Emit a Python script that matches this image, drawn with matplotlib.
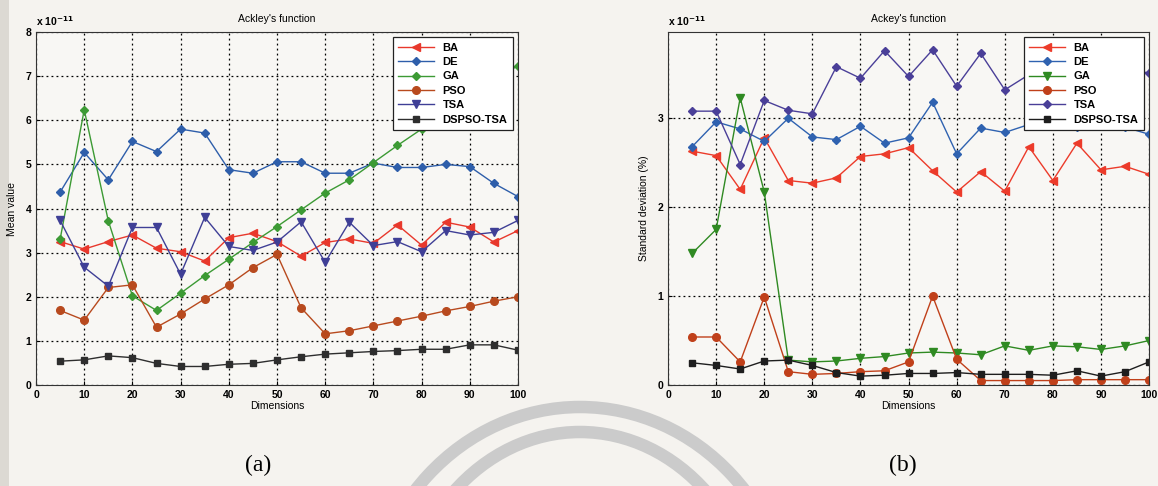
import matplotlib
matplotlib.use("Agg")
import matplotlib.pyplot as plt
from matplotlib.patches import Arc, Rectangle

plt.rcParams['font.family'] = ['Liberation Sans', 'DejaVu Sans']
plt.rcParams['font.weight'] = 'bold'

dims = [5, 10, 15, 20, 25, 30, 35, 40, 45, 50, 55, 60, 65, 70, 75, 80, 85, 90, 95, 100]

# (a) mean value, units of 1e-11
mean_ba = [3.25, 3.08, 3.25, 3.40, 3.10, 3.02, 2.81, 3.34, 3.44, 3.25,
           2.92, 3.23, 3.31, 3.21, 3.63, 3.17, 3.69, 3.58, 3.24, 3.50]
mean_de = [4.37, 5.27, 4.65, 5.52, 5.29, 5.80, 5.71, 4.88, 4.80, 5.06,
           5.06, 4.80, 4.80, 5.03, 4.93, 4.93, 5.00, 4.95, 4.57, 4.27]
mean_ga = [3.30, 6.24, 3.72, 2.02, 1.69, 2.08, 2.48, 2.85, 3.23, 3.59,
           3.97, 4.35, 4.65, 5.04, 5.43, 5.80, 6.20, 6.55, 6.90, 7.24]
mean_pso = [1.69, 1.47, 2.21, 2.27, 1.31, 1.61, 1.95, 2.27, 2.66, 2.96,
            1.75, 1.16, 1.23, 1.34, 1.45, 1.56, 1.68, 1.78, 1.90, 2.00]
mean_tsa = [3.73, 2.67, 2.24, 3.57, 3.57, 2.51, 3.80, 3.14, 3.05, 3.24,
            3.70, 2.78, 3.69, 3.16, 3.25, 3.02, 3.50, 3.40, 3.46, 3.73]
mean_dspso = [0.54, 0.57, 0.66, 0.62, 0.49, 0.42, 0.42, 0.47, 0.49, 0.57,
              0.64, 0.70, 0.73, 0.76, 0.78, 0.81, 0.81, 0.91, 0.91, 0.79]

# (b) standard deviation, units of 1e-11
std_ba = [2.63, 2.58, 2.20, 2.78, 2.30, 2.27, 2.33, 2.57, 2.60, 2.67,
          2.41, 2.17, 2.40, 2.18, 2.68, 2.30, 2.72, 2.42, 2.46, 2.37]
std_de = [2.68, 2.96, 2.88, 2.74, 3.00, 2.79, 2.76, 2.91, 2.72, 2.78,
          3.18, 2.60, 2.89, 2.84, 2.93, 2.95, 2.90, 2.95, 2.90, 2.82]
std_ga = [1.48, 1.75, 3.23, 2.17, 0.28, 0.26, 0.27, 0.30, 0.32, 0.36,
          0.37, 0.36, 0.34, 0.44, 0.39, 0.44, 0.43, 0.40, 0.44, 0.50]
std_pso = [0.54, 0.54, 0.26, 0.99, 0.15, 0.12, 0.13, 0.15, 0.16, 0.26,
           1.00, 0.29, 0.05, 0.05, 0.05, 0.05, 0.06, 0.06, 0.06, 0.06]
std_tsa = [3.08, 3.08, 2.48, 3.20, 3.09, 3.05, 3.58, 3.45, 3.76, 3.47,
           3.77, 3.36, 3.73, 3.32, 3.49, 3.60, 3.50, 3.65, 3.55, 3.51]
std_dspso = [0.25, 0.22, 0.18, 0.27, 0.28, 0.22, 0.14, 0.10, 0.11, 0.13,
             0.13, 0.14, 0.12, 0.12, 0.12, 0.11, 0.16, 0.10, 0.15, 0.26]

bg = '#f5f3ef'
fig = plt.figure(figsize=(11.58, 4.86), dpi=100, facecolor=bg)

# scan artefacts: shadow at the left edge and the faint watermark arcs
deco = fig.add_axes([0, 0, 1, 1], zorder=-5)
deco.set_xlim(0, 1158)
deco.set_ylim(486, 0)
deco.axis('off')
deco.add_patch(Rectangle((0, 0), 9, 486, color='#dcd9d3', lw=0))
deco.add_patch(Arc((580, 640), 430, 466, theta1=180, theta2=360, color='#cbcbcb', lw=9))
deco.add_patch(Arc((580, 640), 360, 416, theta1=180, theta2=360, color='#cbcbcb', lw=9))

sizes = {'D': 4, '<': 5.5, 'v': 5.5, 'o': 5.5, 's': 5}


def draw(ax, series, ylim, yticks, ylabel, title):
    for label, vals, color, marker in series:
        ax.plot(dims, vals, color=color, marker=marker, markersize=sizes[marker],
                markerfacecolor=color, markeredgecolor=color, lw=1, label=label)
    ax.set_xlim(0, 100)
    ax.set_ylim(*ylim)
    ax.set_xticks(range(0, 101, 10))
    ax.set_yticks(yticks)
    ax.set_facecolor('#f8f7f4')
    ax.grid(True, color='black', linestyle=(0, (1.5, 2.5)), lw=0.9)
    ax.tick_params(labelsize=7.5, direction='in', length=3)
    ax.set_xlabel('Dimensions', fontsize=7.5, labelpad=1)
    ax.set_ylabel(ylabel, fontsize=7.5, labelpad=6)
    ax.set_title(title, fontsize=7.5, pad=7)
    ax.text(0, 1.012, r'x 10$^{-11}$', transform=ax.transAxes, fontsize=7.5,
            ha='left', va='bottom')
    for s in ax.spines.values():
        s.set_color('#333333')
    leg = ax.legend(loc='upper right', fontsize=8, frameon=True, fancybox=False,
                    edgecolor='#222222', framealpha=1, borderaxespad=0.45,
                    handlelength=3.2, labelspacing=0.4, borderpad=0.5)
    leg.get_frame().set_facecolor('white')
    leg.get_frame().set_linewidth(0.9)


ax1 = fig.add_axes([0.0311, 0.2078, 0.4162, 0.7263])
draw(ax1, [
    ('BA', mean_ba, '#e8382c', '<'),
    ('DE', mean_de, '#2e5eaa', 'D'),
    ('GA', mean_ga, '#3c9a34', 'D'),
    ('PSO', mean_pso, '#b84a1e', 'o'),
    ('TSA', mean_tsa, '#3f3f96', 'v'),
    ('DSPSO-TSA', mean_dspso, '#2e2e2e', 's'),
], (0, 8), range(0, 9), 'Mean value', "Ackley's function")

ax2 = fig.add_axes([0.5769, 0.2078, 0.4154, 0.7263])
draw(ax2, [
    ('BA', std_ba, '#ec3b2a', '<'),
    ('DE', std_de, '#2f62b0', 'D'),
    ('GA', std_ga, '#2f8a22', 'v'),
    ('PSO', std_pso, '#c0401a', 'o'),
    ('TSA', std_tsa, '#4a3f98', 'D'),
    ('DSPSO-TSA', std_dspso, '#1e1e1e', 's'),
], (0, 3.97), [0, 1, 2, 3], 'Standard deviation (%)', "Ackey's function")

fig.text(258 / 1158, 1 - 465 / 486, '(a)', fontsize=17, fontweight='normal',
         family=['Liberation Serif', 'DejaVu Serif'], ha='center', va='center')
fig.text(903 / 1158, 1 - 465 / 486, '(b)', fontsize=17, fontweight='normal',
         family=['Liberation Serif', 'DejaVu Serif'], ha='center', va='center')

fig.savefig('out.png', dpi=100, facecolor=bg)
